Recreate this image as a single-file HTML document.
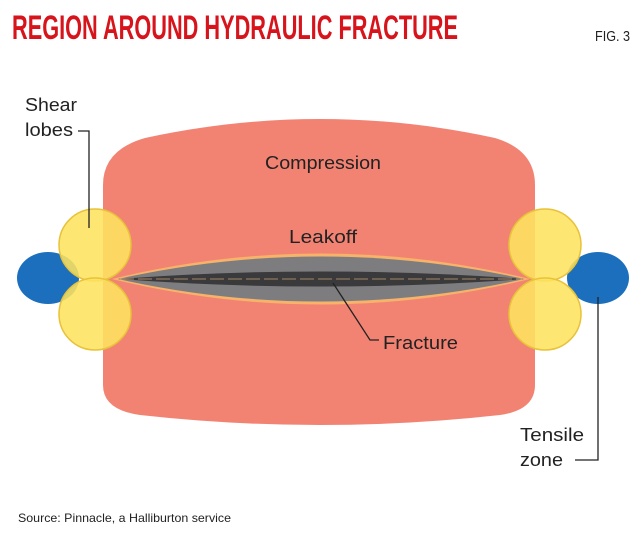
<!DOCTYPE html>
<html><head><style>body{margin:0;background:#fff}svg{display:block}</style></head><body>
<svg width="640" height="535" viewBox="0 0 640 535" xmlns="http://www.w3.org/2000/svg" font-family="'Liberation Sans',sans-serif">
<text x="12" y="39" font-size="34" fill="#d7141c" font-weight="bold" textLength="446" lengthAdjust="spacingAndGlyphs">REGION AROUND HYDRAULIC FRACTURE</text>
<text x="595" y="41" font-size="15" fill="#222" textLength="35" lengthAdjust="spacingAndGlyphs">FIG. 3</text>
<path d="M103,185 Q103,150 145,138 Q320,100 495,138 Q535,150 535,185 L535,385 Q535,410 500,415 Q320,435 140,415 Q103,410 103,385 Z" fill="#f28373"/>
<ellipse cx="48" cy="278" rx="31" ry="26" fill="#1c6fbc"/>
<ellipse cx="598" cy="278" rx="31" ry="26" fill="#1c6fbc"/>
<g fill="#fde35f" fill-opacity="0.88" stroke="#e8c23a" stroke-width="1.5">
<circle cx="95" cy="245" r="36"/><circle cx="95" cy="314" r="36"/>
<circle cx="545" cy="245" r="36"/><circle cx="545" cy="314" r="36"/>
</g>
<path d="M112,279 Q320,228 530,279 Q320,330 112,279 Z" fill="#f7b36a"/>
<path d="M118,279 Q320,234 524,279 Q320,324 118,279 Z" fill="#7d7d7f"/>
<path d="M118,279 Q320,264 524,279 Q320,294 118,279 Z" fill="#3a3a3c"/>
<line x1="120" y1="279" x2="522" y2="279" stroke="#c9a070" stroke-width="0.8" stroke-dasharray="14,4"/>
<g font-size="18" fill="#222">
<text x="265" y="169" textLength="116" lengthAdjust="spacingAndGlyphs">Compression</text>
<text x="289" y="243" textLength="68" lengthAdjust="spacingAndGlyphs">Leakoff</text>
<text x="383" y="349" textLength="75" lengthAdjust="spacingAndGlyphs">Fracture</text>
<text x="25" y="111" textLength="52" lengthAdjust="spacingAndGlyphs">Shear</text>
<text x="25" y="136" textLength="48" lengthAdjust="spacingAndGlyphs">lobes</text>
<text x="520" y="441" textLength="64" lengthAdjust="spacingAndGlyphs">Tensile</text>
<text x="520" y="466" textLength="43" lengthAdjust="spacingAndGlyphs">zone</text>
</g>
<polyline points="333,283 370,340 379,340" fill="none" stroke="#222" stroke-width="1.3"/>
<polyline points="78,131 89,131 89,228" fill="none" stroke="#222" stroke-width="1.3"/>
<polyline points="598,297 598,460 575,460" fill="none" stroke="#222" stroke-width="1.3"/>
<text x="18" y="522" font-size="12" fill="#222" textLength="213" lengthAdjust="spacingAndGlyphs">Source: Pinnacle, a Halliburton service</text>
</svg>
</body></html>
